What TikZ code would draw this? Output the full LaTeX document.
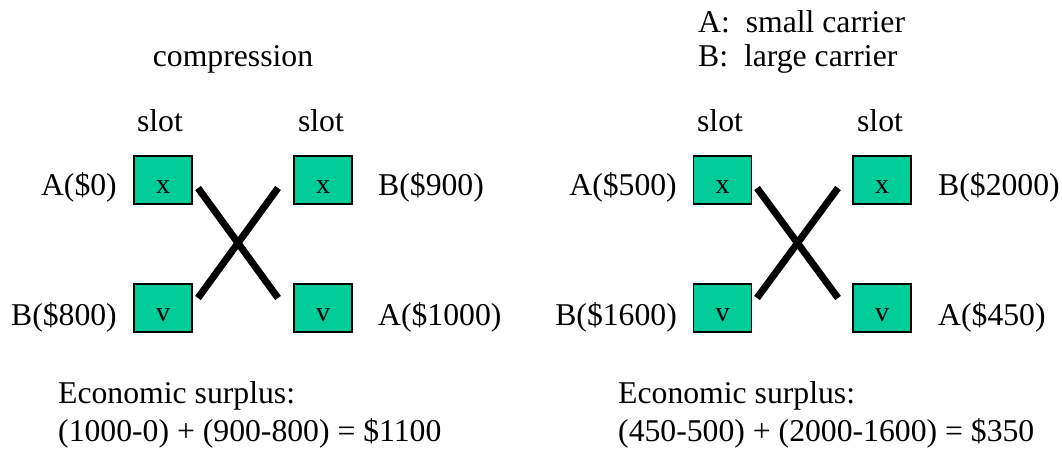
\documentclass[tikz,border=0pt]{standalone}
\usepackage{fontspec}
\setmainfont{Liberation Serif}
\definecolor{slotgreen}{RGB}{0,204,153}
\begin{document}
\begin{tikzpicture}[x=1pt,y=-1pt,
  slotbox/.style={draw=black,line width=1.2pt,fill=slotgreen,minimum width=58pt,minimum height=48pt,inner sep=0pt,text height=27pt,text depth=0pt,font=\fontsize{28}{30}\selectfont},
  lbl/.style={font=\fontsize{31.7}{34}\selectfont,inner sep=0pt},
  cross/.style={line width=7pt}]
\useasboundingbox (0,0) rectangle (1062,449);
% left group
\node[lbl,anchor=base] (comp) at (233,67) {compression};
\node[lbl,anchor=base] (s1) at (160,132) {slot};
\node[lbl,anchor=base] (s2) at (321,132) {slot};
\node[slotbox] (lx1) at (163,180) {x};
\node[slotbox] (lx2) at (323,180) {x};
\node[slotbox] (lv1) at (163,308) {v};
\node[slotbox] (lv2) at (323,308) {v};
\node[lbl,anchor=base east] (la1) at (117,196) {A(\$0)};
\node[lbl,anchor=base east] (la2) at (117,325) {B(\$800)};
\node[lbl,anchor=base west] (la3) at (378,196) {B(\$900)};
\node[lbl,anchor=base west] (la4) at (378,325) {A(\$1000)};
\coordinate (lc1) at (198,188);
\coordinate (lc2) at (278,298);
\coordinate (lc3) at (198,298);
\coordinate (lc4) at (278,188);
\draw[cross] (lc1) -- (lc2);
\draw[cross] (lc3) -- (lc4);
\node[lbl,anchor=base west] (le1) at (58,403) {Economic surplus:};
\node[lbl,anchor=base west] (le2) at (58,441) {(1000-0) + (900-800) = \$1100};
% right group
\node[lbl,anchor=base west] (ka) at (698,33) {A:\ \ small carrier};
\node[lbl,anchor=base west] (kb) at (698,67) {B:\ \ large carrier};
\node[lbl,anchor=base] (s3) at (720,132) {slot};
\node[lbl,anchor=base] (s4) at (880,132) {slot};
\node[slotbox] (rx1) at (722.5,180) {x};
\node[slotbox] (rx2) at (882,180) {x};
\node[slotbox] (rv1) at (722.5,308) {v};
\node[slotbox] (rv2) at (882,308) {v};
\node[lbl,anchor=base east] (ra1) at (677,196) {A(\$500)};
\node[lbl,anchor=base east] (ra2) at (677,325) {B(\$1600)};
\node[lbl,anchor=base west] (ra3) at (938,196) {B(\$2000)};
\node[lbl,anchor=base west] (ra4) at (938,325) {A(\$450)};
\coordinate (rc1) at (757,188);
\coordinate (rc2) at (838,298);
\coordinate (rc3) at (757,298);
\coordinate (rc4) at (838,188);
\draw[cross] (rc1) -- (rc2);
\draw[cross] (rc3) -- (rc4);
\node[lbl,anchor=base west] (re1) at (618,403) {Economic surplus:};
\node[lbl,anchor=base west] (re2) at (618,441) {(450-500) + (2000-1600) = \$350};
\end{tikzpicture}
\end{document}
